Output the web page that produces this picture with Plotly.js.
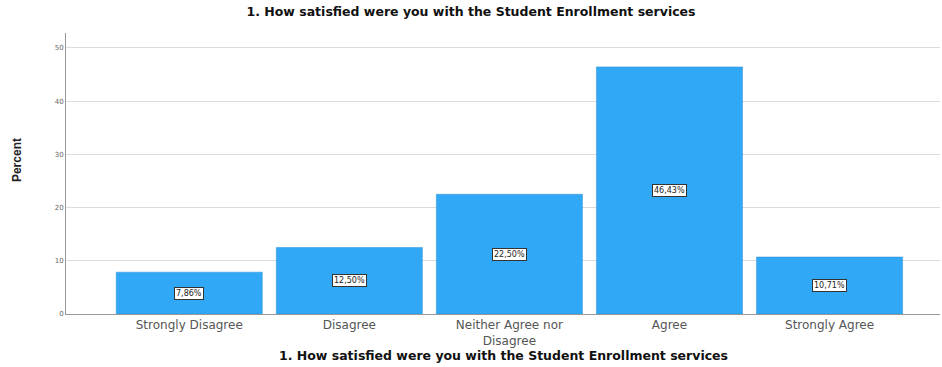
<!DOCTYPE html>
<html>
<head>
<meta charset="utf-8">
<script src="https://cdn.plot.ly/plotly-3.0.1.min.js"></script>
<style>html,body{margin:0;padding:0;background:#fff;}#chart{width:942px;height:367px;}</style>
</head>
<body>
<div id="chart"></div>
<script>
const categories = ["Strongly Disagree", "Disagree", "Neither Agree nor<br>Disagree", "Agree", "Strongly Agree"];
const percents = [7.86, 12.50, 22.50, 46.43, 10.71];
const labels = ["7,86%", "12,50%", "22,50%", "46,43%", "10,71%"];
const yTicks = [0, 10, 20, 30, 40, 50];
const titleText = '1. How satisfied were you with the Student Enrollment services';
const yTitle = 'Percent';

const annotations = categories.map((c, i) => ({
  x: i, y: percents[i] / 2, xref: 'x', yref: 'y',
  text: labels[i], showarrow: false,
  font: {family: 'DejaVu Sans', size: 8, color: '#222'},
  bgcolor: '#ffffff', bordercolor: '#333333', borderwidth: 1, borderpad: 1
}));
annotations.push({
  text: '<b>' + titleText + '</b>',
  xref: 'paper', yref: 'paper', x: 0.5, y: -0.146, yanchor: 'middle', showarrow: false,
  font: {family: 'DejaVu Sans', size: 12.5, color: '#111'}
});
annotations.push({
  text: '<b>' + yTitle + '</b>', textangle: -90,
  xref: 'paper', yref: 'paper', x: -0.056, y: 0.548, xanchor: 'center', yanchor: 'middle', showarrow: false,
  font: {family: 'Liberation Sans Narrow, Liberation Sans, Arial', size: 12, color: '#222'}
});

Plotly.newPlot('chart', [{
  type: 'bar',
  x: categories.map((c, i) => i),
  y: percents,
  marker: {color: '#31a8f5', line: {color: '#2a8fd6', width: 0.5}},
  hoverinfo: 'none'
}], {
  width: 942, height: 367,
  margin: {l: 66, r: 2, t: 33, b: 53},
  paper_bgcolor: '#fff', plot_bgcolor: '#fff',
  bargap: 0.0875,
  showlegend: false,
  title: {text: '<b>' + titleText + '</b>',
    x: 0.5, xanchor: 'center', y: 0.967, yanchor: 'middle',
    font: {family: 'DejaVu Sans', size: 12.5, color: '#111'}},
  xaxis: {
    tickmode: 'array', tickvals: categories.map((c, i) => i), ticktext: categories,
    range: [-0.77, 4.69], showgrid: false, zeroline: false,
    showline: true, linecolor: '#999', linewidth: 1, ticks: '',
    tickfont: {family: 'DejaVu Sans', size: 12, color: '#555'}
  },
  yaxis: {
    range: [0, 52.8], tickvals: yTicks, showgrid: true, gridcolor: '#dcdcdc', gridwidth: 1,
    zeroline: false, showline: true, linecolor: '#999', linewidth: 1, ticks: '',
    tickfont: {family: 'DejaVu Sans', size: 7, color: '#666'}
  },
  annotations: annotations
}, {staticPlot: true});
</script>
</body>
</html>
